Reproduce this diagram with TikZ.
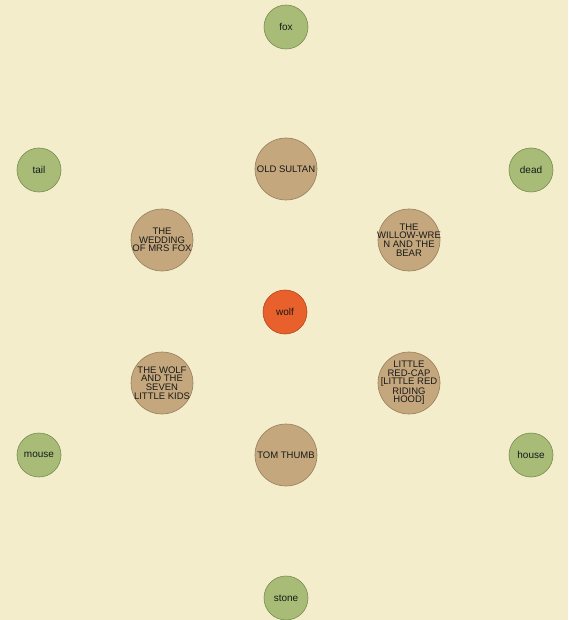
\documentclass[tikz,border=0pt]{standalone}
\usepackage{fontspec}
\setmainfont{Liberation Sans}
\definecolor{bg}{RGB}{243,237,204}
\definecolor{brownf}{RGB}{196,167,125}
\definecolor{brownd}{RGB}{150,125,90}
\definecolor{greenf}{RGB}{168,188,120}
\definecolor{greend}{RGB}{120,140,80}
\definecolor{redf}{RGB}{232,96,44}
\definecolor{redd}{RGB}{180,70,30}
\tikzset{
  storytext/.style={align=center,inner sep=0pt,font=\fontsize{9.5}{8.6}\selectfont,text=black!90},
  story/.style={circle,fill=brownf,draw=brownd,line width=0.6pt,minimum size=62pt,inner sep=0pt,
    label={[storytext]center:#1}},
  word/.style={circle,fill=greenf,draw=greend,line width=0.6pt,minimum size=44pt,inner sep=0pt,
    font=\fontsize{10}{10}\selectfont,text=black!90},
  hub/.style={circle,fill=redf,draw=redd,line width=0.6pt,minimum size=44pt,inner sep=0pt,
    font=\fontsize{10}{10}\selectfont,text=black!90}
}
\begin{document}
\begin{tikzpicture}[x=1pt,y=-1pt]
\fill[bg] (0,0) rectangle (568,620);
\useasboundingbox (0,0) rectangle (568,620);
\node[hub] (wolf) at (285,312) {wolf};
\node[story={OLD SULTAN}] (sultan) at (286,169) {};
\node[story={TOM THUMB}] (thumb) at (286,455) {};
\node[story={THE\\WEDDING\\OF MRS FOX}] (wedding) at (162,240) {};
\node[story={THE\\WILLOW-WRE\\N AND THE\\BEAR}] (willow) at (409,240) {};
\node[story={THE WOLF\\AND THE\\SEVEN\\LITTLE KIDS}] (kids) at (162,383) {};
\node[story={LITTLE\\RED-CAP\\{[}LITTLE RED\\RIDING\\HOOD{]}}] (redcap) at (409,383) {};
\node[word] (fox) at (286,27) {fox};
\node[word] (stone) at (286,598) {stone};
\node[word] (tail) at (39,170) {tail};
\node[word] (dead) at (531,170) {dead};
\node[word] (mouse) at (39,455) {mouse};
\node[word] (house) at (531,455) {house};
\end{tikzpicture}
\end{document}
